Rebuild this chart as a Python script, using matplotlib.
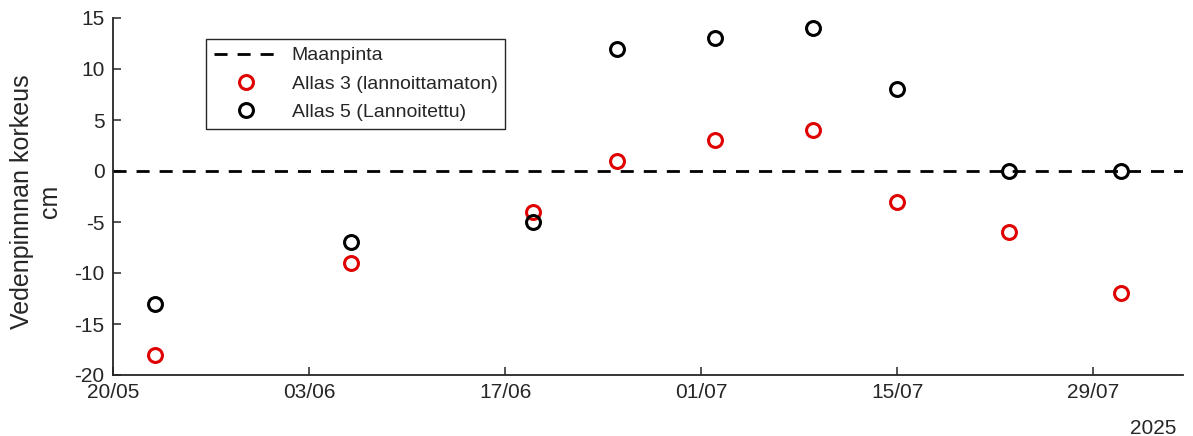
import numpy as np
import matplotlib
matplotlib.use('Agg')
import matplotlib.pyplot as plt
import matplotlib.dates as mdates
from datetime import datetime, timedelta

plt.rcParams['font.family'] = ['Liberation Sans', 'DejaVu Sans']
plt.rcParams['axes.unicode_minus'] = False

dates = ['2025-05-23', '2025-06-06', '2025-06-19', '2025-06-25', '2025-07-02',
         '2025-07-09', '2025-07-15', '2025-07-23', '2025-07-31']
allas3 = [-18, -9, -4, 1, 3, 4, -3, -6, -12]
allas5 = [-13, -7, -5, 12, 13, 14, 8, 0, 0]
tick_dates = ['2025-05-20', '2025-06-03', '2025-06-17', '2025-07-01', '2025-07-15', '2025-07-29']

x = [datetime.strptime(d, '%Y-%m-%d') for d in dates]
xt = [datetime.strptime(d, '%Y-%m-%d') for d in tick_dates]
x0 = datetime(2025, 5, 20)
x1 = x0 + timedelta(days=76.4)

ink = '#262626'
fig = plt.figure(figsize=(11.93, 4.36), dpi=100)
ax = fig.add_axes([113/1193, 1-375/436, 1070/1193, 357/436])

ax.plot([x0, x1], [0, 0], color='black', lw=2, dashes=(4.7, 3.6), label='Maanpinta')
ax.plot(x, allas3, ls='none', marker='o', ms=10, mew=2.2, mfc='none', mec='#e00000',
        label='Allas 3 (lannoittamaton)')
ax.plot(x, allas5, ls='none', marker='o', ms=10, mew=2.2, mfc='none', mec='black',
        label='Allas 5 (Lannoitettu)')

ax.set_xlim(x0, x1)
ax.set_ylim(-20, 15)
ax.set_yticks(np.arange(-20, 16, 5))
ax.set_xticks(xt)
ax.xaxis.set_major_formatter(mdates.DateFormatter('%d/%m'))
for s in ['top', 'right']:
    ax.spines[s].set_visible(False)
for s in ['left', 'bottom']:
    ax.spines[s].set_color(ink)
    ax.spines[s].set_linewidth(1.3)
ax.tick_params(direction='in', length=6, width=1.1, colors=ink, labelsize=15, pad=6)

ax.set_ylabel('Vedenpinnnan korkeus\ncm', fontsize=18, color=ink, linespacing=1.2)
ax.yaxis.set_label_coords(-0.048, 0.485)
fig.text(1176/1193, 1-428/436, '2025', ha='right', va='center', fontsize=15, color=ink)

leg = ax.legend(loc='upper left', bbox_to_anchor=(0.087, 0.941), fontsize=14,
                frameon=True, fancybox=False, edgecolor=ink, framealpha=1,
                handlelength=3.3, borderpad=0.4, labelspacing=0.55, handletextpad=0.7,
                borderaxespad=0)
leg.get_frame().set_linewidth(1.0)
for t in leg.get_texts():
    t.set_color(ink)

fig.savefig('out.png', dpi=100)
